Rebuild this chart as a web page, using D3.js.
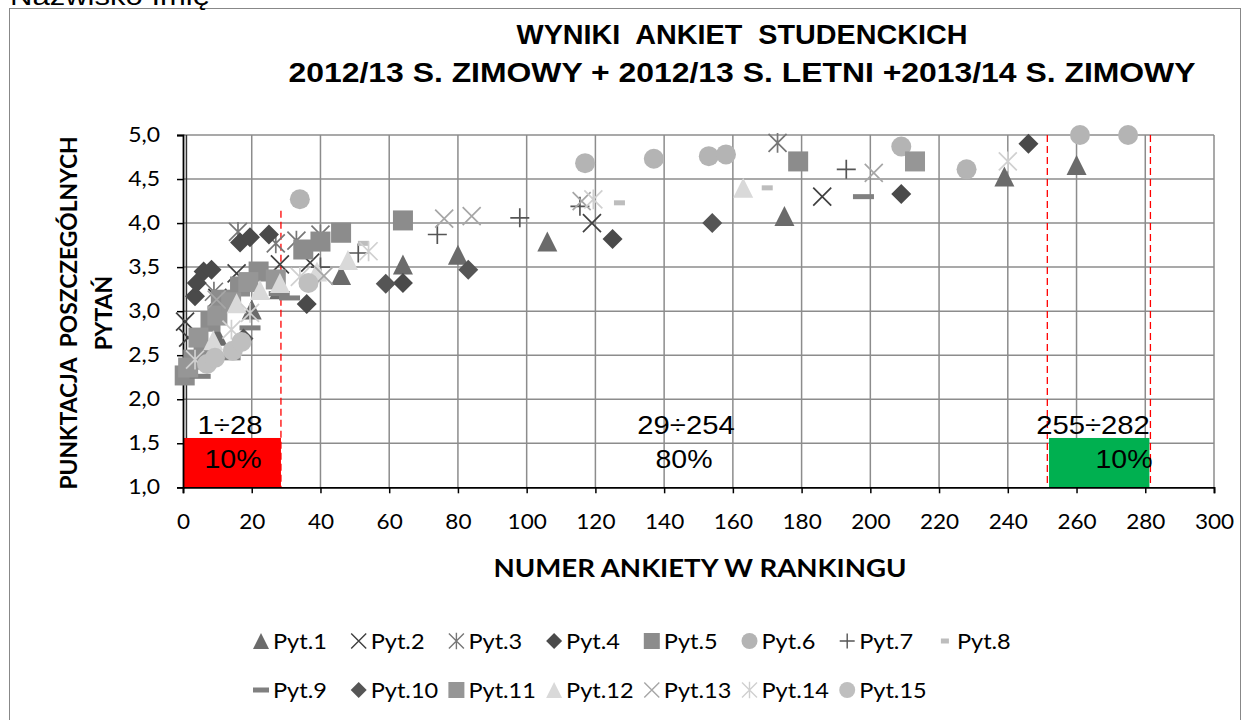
<!DOCTYPE html>
<html><head><meta charset="utf-8">
<script src="https://cdn.jsdelivr.net/npm/d3@7"></script>
<style>
html,body{margin:0;padding:0;background:#fff;}
svg text{white-space:pre;}
</style></head>
<body>
<svg id="chart" width="1252" height="720"></svg>
<script>
// ---- DATA ----
const xTicks = [0,20,40,60,80,100,120,140,160,180,200,220,240,260,280,300];
const yTicks = [1.0,1.5,2.0,2.5,3.0,3.5,4.0,4.5,5.0];
const seriesNames = ["Pyt.1","Pyt.2","Pyt.3","Pyt.4","Pyt.5","Pyt.6","Pyt.7","Pyt.8","Pyt.9","Pyt.10","Pyt.11","Pyt.12","Pyt.13","Pyt.14","Pyt.15"];
const pyt1  = [[10,2.72],[20,3.02],[28,3.25],[46,3.41],[64,3.53],[80,3.64],[106,3.79],[175,4.08],[239,4.53],[260,4.66]];
const pyt2  = [[0.6,2.88],[1.5,2.70],[10,3.15],[15.6,3.43],[28.2,3.53],[37,3.55],[119,4.0],[186,4.30]];
const pyt3  = [[9,3.22],[16,3.90],[27,3.77],[33,3.80],[40,3.87],[173,4.91]];
const pyt4  = [[3.5,3.17],[4,3.32],[6,3.45],[8.3,3.47],[16.6,3.78],[19.5,3.84],[25,3.87],[36,3.08],[64,3.32],[125,3.82],[209,4.33],[246,4.90]];
const pyt5  = [[0.5,2.27],[3,2.45],[6,2.56],[8,2.88],[11,3.13],[16.6,3.28],[22,3.45],[35,3.70],[40,3.79],[46,3.89],[64,4.03],[179,4.70]];
const pyt6  = [[34,4.27],[117,4.68],[137,4.73],[153,4.76],[158,4.78],[209,4.87],[228,4.61],[261,5.0],[275,5.0]];
const pyt7  = [[40,3.50],[51,3.66],[74,3.87],[98,4.06],[115.5,4.19],[193,4.61]];
const pyt8  = [[52.5,3.77],[127,4.23],[170,4.40]];
const pyt9  = [[5,2.26],[13.7,2.47],[19.5,2.81],[28,3.20],[31,3.15],[198,4.30]];
const pyt10 = [[17.6,2.69],[59,3.31],[83,3.47],[154,4.0]];
const pyt11 = [[1.5,2.36],[4.5,2.70],[10,2.95],[14,3.10],[19,3.33],[27,3.36],[213,4.70]];
const pyt12 = [[8.8,2.67],[15.6,3.09],[22.4,3.24],[28.2,3.32],[39,3.45],[48,3.58],[163,4.40]];
const pyt13 = [[9.8,3.13],[41,3.40],[76,4.05],[84,4.08],[116,4.25],[201,4.57]];
const pyt14 = [[3.5,2.45],[14.1,2.79],[19.5,2.98],[34,3.39],[54,3.68],[119.4,4.27],[240,4.70]];
const pyt15 = [[7,2.40],[9.3,2.47],[14.5,2.55],[17,2.65],[36.5,3.32]];
const regionLabels = [["1÷28","10%"],["29÷254","80%"],["255÷282","10%"]];

// ---- STYLE ----
const seriesData = [pyt1,pyt2,pyt3,pyt4,pyt5,pyt6,pyt7,pyt8,pyt9,pyt10,pyt11,pyt12,pyt13,pyt14,pyt15];
const shapes = ["tri","x","ast","dia","sq","circ","plus","dashS","dash","dia","sq","tri","x","ast","circ"];
const colors = ["#6b6b6b","#404040","#777777","#4a4a4a","#8c8c8c","#b4b4b4","#555555","#bdbdbd","#808080","#555555","#969696","#d9d9d9","#a6a6a6","#d0d0d0","#bfbfbf"];

const svg = d3.select("#chart");
const x = d3.scaleLinear().domain([0,300]).range([183,1214]);
const y = d3.scaleLinear().domain([1,5]).range([487.3,135]);

function stretch(sel, f){
  sel.each(function(){
    const L = this.getComputedTextLength();
    d3.select(this).attr("textLength", L*f).attr("lengthAdjust","spacingAndGlyphs");
  });
  return sel;
}

// outer border and name
svg.append("rect").attr("x",9.5).attr("y",8.5).attr("width",1231).attr("height",720)
  .attr("fill","none").attr("stroke","#888").attr("stroke-width",1);
svg.append("text").attr("x",10).attr("y",5).attr("font-family","Liberation Sans, Arial").attr("font-size",26)
  .attr("textLength",200).attr("lengthAdjust","spacingAndGlyphs").text("Nazwisko Imię");

// title
svg.append("text").attr("x",742).attr("y",44).attr("text-anchor","middle")
  .attr("font-family","Liberation Sans, Arial").attr("font-weight","bold").attr("font-size",27)
  .attr("textLength",451).attr("lengthAdjust","spacingAndGlyphs")
  .text("WYNIKI  ANKIET  STUDENCKICH");
svg.append("text").attr("x",742).attr("y",82).attr("text-anchor","middle")
  .attr("font-family","Liberation Sans, Arial").attr("font-weight","bold").attr("font-size",27)
  .attr("textLength",907).attr("lengthAdjust","spacingAndGlyphs")
  .text("2012/13 S. ZIMOWY + 2012/13 S. LETNI +2013/14 S. ZIMOWY");

// grid
const g = svg.append("g");
g.selectAll("line.vg").data(xTicks.filter(d=>d>0)).join("line")
  .attr("x1",d=>x(d)).attr("x2",d=>x(d)).attr("y1",y(5)).attr("y2",y(1))
  .attr("stroke","#8c8c8c").attr("stroke-width",1.5);
g.selectAll("line.hg").data(yTicks.filter(d=>d>1)).join("line")
  .attr("x1",x(0)).attr("x2",x(300)).attr("y1",d=>y(d)).attr("y2",d=>y(d))
  .attr("stroke","#8c8c8c").attr("stroke-width",1.5);

// dark vertical line at x=1
svg.append("line").attr("x1",x(1)).attr("x2",x(1)).attr("y1",y(5)).attr("y2",y(1))
  .attr("stroke","#333").attr("stroke-width",1.5);

// region boxes
svg.append("rect").attr("x",x(0)).attr("y",y(1.56)).attr("width",x(28.5)-x(0)).attr("height",y(1)-y(1.56)).attr("fill","#ff0000");
svg.append("rect").attr("x",x(252)).attr("y",y(1.56)).attr("width",x(281.2)-x(252)).attr("height",y(1)-y(1.56)).attr("fill","#00b050");

// red dashed lines
const dashLines = [[28.5,4.14],[251.5,5.0],[281.5,5.0]];
svg.selectAll("line.rd").data(dashLines).join("line")
  .attr("x1",d=>x(d[0])).attr("x2",d=>x(d[0])).attr("y1",d=>y(d[1])).attr("y2",y(1))
  .attr("stroke","#ff0000").attr("stroke-width",1.3).attr("stroke-dasharray","7,4");

// axes
const xAxis = d3.axisBottom(x).tickValues(xTicks).tickSize(6).tickFormat(d3.format("d"));
const gx = svg.append("g").attr("transform",`translate(0,${y(1)})`).call(xAxis);
gx.select(".domain").attr("stroke","#000").attr("stroke-width",1.8);
gx.selectAll(".tick line").attr("stroke","#000").attr("stroke-width",1.5);
stretch(gx.selectAll(".tick text").attr("font-family","Lato").attr("font-size",20.5).attr("fill","#000").attr("y",42).attr("dy",0), 1.1);

const yAxis = d3.axisLeft(y).tickValues(yTicks).tickSize(6).tickFormat(d=>d3.format(".1f")(d).replace(".",","));
const gy = svg.append("g").attr("transform",`translate(${x(0)},0)`).call(yAxis);
gy.select(".domain").attr("stroke","#000").attr("stroke-width",1.8);
gy.selectAll(".tick line").attr("stroke","#000").attr("stroke-width",1.5);
stretch(gy.selectAll(".tick text").attr("font-family","Lato").attr("font-size",20.5).attr("fill","#000").attr("x",-23), 1.12);

// axis titles
svg.append("text").attr("x",700).attr("y",577).attr("text-anchor","middle")
  .attr("font-family","Lato").attr("font-weight","bold").attr("font-size",24)
  .attr("textLength",413).attr("lengthAdjust","spacingAndGlyphs")
  .text("NUMER ANKIETY W RANKINGU");
svg.append("text").attr("transform","translate(77,313) rotate(-90)").attr("text-anchor","middle")
  .attr("font-family","Lato").attr("font-weight","bold").attr("font-size",23)
  .attr("textLength",353).attr("lengthAdjust","spacingAndGlyphs")
  .text("PUNKTACJA  POSZCZEGÓLNYCH");
svg.append("text").attr("transform","translate(112,313) rotate(-90)").attr("text-anchor","middle")
  .attr("font-family","Lato").attr("font-weight","bold").attr("font-size",23)
  .text("PYTAŃ");

// region labels
const regPos = [[230,233],[686,684],[1093,1124]];
regionLabels.forEach((r,i)=>{
  stretch(svg.append("text").attr("x",regPos[i][0]).attr("y",434).attr("text-anchor","middle")
    .attr("font-family","Liberation Sans, Arial").attr("font-size",25).text(r[0]), 1.17);
  stretch(svg.append("text").attr("x",regPos[i][1]).attr("y",468).attr("text-anchor","middle")
    .attr("font-family","Liberation Sans, Arial").attr("font-size",25).text(r[1]), 1.14);
});

// marker drawing
function drawMarker(sel, shape, color, s){
  const h=s/2;
  if(shape==="circ") sel.append("circle").attr("r",h).attr("fill",color);
  else if(shape==="sq") sel.append("rect").attr("x",-h).attr("y",-h).attr("width",s).attr("height",s).attr("fill",color);
  else if(shape==="tri") sel.append("path").attr("d",`M0,${-h}L${h},${h}L${-h},${h}Z`).attr("fill",color);
  else if(shape==="dia") sel.append("path").attr("d",`M0,${-h}L${h},0L0,${h}L${-h},0Z`).attr("fill",color);
  else if(shape==="x") sel.append("path").attr("d",`M${-h},${-h}L${h},${h}M${-h},${h}L${h},${-h}`).attr("stroke",color).attr("stroke-width",s>15?1.7:1.4).attr("fill","none");
  else if(shape==="plus") sel.append("path").attr("d",`M${-h},0L${h},0M0,${-h}L0,${h}`).attr("stroke",color).attr("stroke-width",s>15?1.7:1.4).attr("fill","none");
  else if(shape==="ast") sel.append("path").attr("d",`M${-h},${-h}L${h},${h}M${-h},${h}L${h},${-h}M0,${-h*1.1}L0,${h*1.1}`).attr("stroke",color).attr("stroke-width",s>15?1.7:1.4).attr("fill","none");
  else if(shape==="dash") sel.append("rect").attr("x",-h).attr("y",-2.5).attr("width",s).attr("height",5).attr("fill",color);
  else if(shape==="dashS") sel.append("rect").attr("x",-h*0.5).attr("y",-2.5).attr("width",s*0.5).attr("height",5).attr("fill",color);
}

const sizes = {circ:20,sq:20,tri:20,dia:20,x:18,plus:19,ast:18,dash:21,dashS:22};
const pts = svg.append("g");
seriesData.forEach((data,i)=>{
  const sg = pts.append("g");
  data.forEach(d=>{
    const m = sg.append("g").attr("transform",`translate(${x(d[0])},${y(d[1])})`);
    drawMarker(m, shapes[i], colors[i], sizes[shapes[i]]);
  });
});

// legend
const legSizes = {circ:16,sq:16,tri:16,dia:16,x:15,plus:15,ast:15,dash:16,dashS:16};
const leg = svg.append("g");
seriesNames.forEach((n,i)=>{
  const row = i<8?0:1, col = i<8?i:i-8;
  const cx = 261 + 97.7*col, cy = row===0?641:690;
  const m = leg.append("g").attr("transform",`translate(${cx},${cy})`);
  drawMarker(m, shapes[i], colors[i], legSizes[shapes[i]]);
  stretch(leg.append("text").attr("x",cx+12).attr("y",cy+7.5).attr("font-family","Lato").attr("font-size",21).text(n), 1.12);
});
</script>
</body></html>
